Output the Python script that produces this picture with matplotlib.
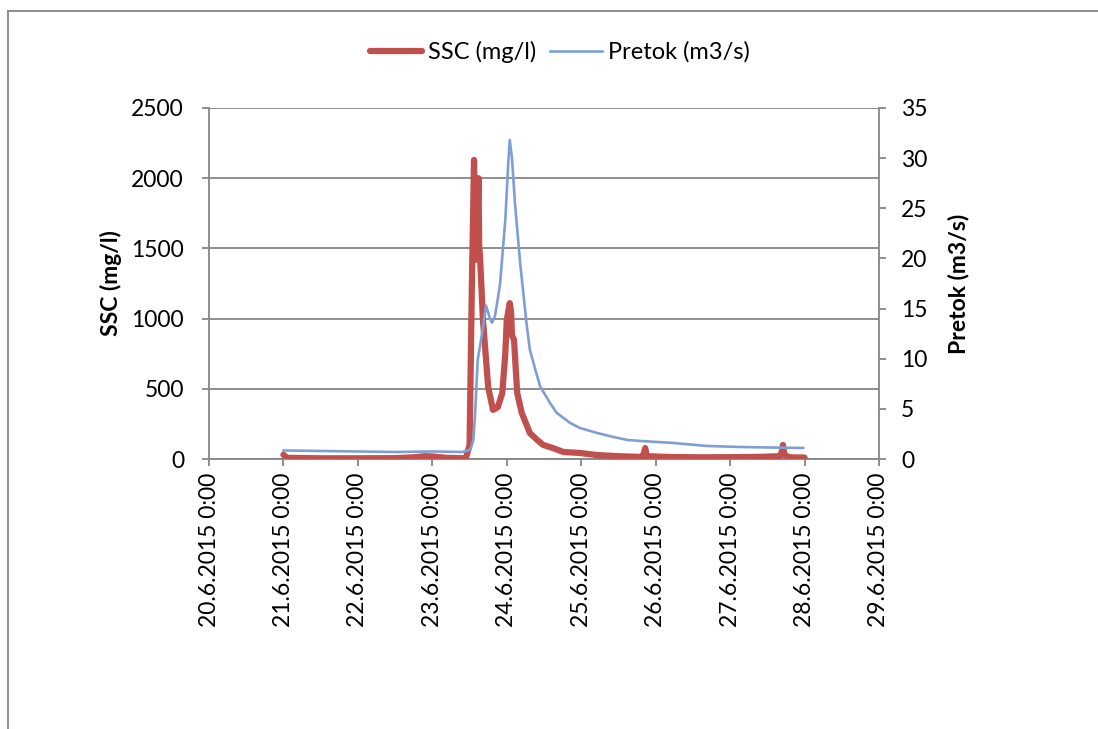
import matplotlib
matplotlib.use("Agg")
import matplotlib.pyplot as plt
from matplotlib.lines import Line2D

plt.rcParams['font.family'] = ['Lato', 'DejaVu Sans']

# time in days of June 2015
ssc_t = [21.00, 21.05, 21.5, 22.0, 22.5, 22.75, 22.9, 23.0, 23.2, 23.45, 23.5,
         23.53, 23.56, 23.575, 23.59, 23.61, 23.62, 23.63, 23.64, 23.68, 23.75,
         23.815, 23.855, 23.88, 23.94, 23.98, 24.00, 24.04, 24.057, 24.07, 24.097,
         24.14, 24.2, 24.31, 24.41, 24.49, 24.62, 24.76, 24.98, 25.21, 25.5,
         25.79, 25.83, 25.86, 25.88, 26.2, 26.6, 27.0, 27.4, 27.67, 27.7, 27.71,
         27.73, 27.8, 28.0]
ssc = [30, 8, 5, 5, 6, 12, 20, 18, 8, 5, 100,
       1200, 2130, 1700, 1420, 1800, 2000, 1500, 1450, 990, 513,
       350, 360, 370, 470, 750, 990, 1110, 1050, 880, 850,
       470, 330, 185, 135, 100, 78, 50, 43, 28, 20,
       15, 20, 78, 20, 14, 12, 13, 15, 20, 60, 100,
       30, 12, 10]

q_t = [21.0, 21.5, 22.0, 22.5, 23.0, 23.4, 23.51, 23.55, 23.57, 23.61, 23.67,
       23.72, 23.775, 23.80, 23.84, 23.88, 23.91, 23.98, 24.02, 24.04, 24.07,
       24.11, 24.18, 24.27, 24.31, 24.41, 24.45, 24.54, 24.58, 24.67, 24.85,
       24.98, 25.21, 25.43, 25.62, 25.79, 26.23, 26.69, 27.13, 27.5, 27.98]
q = [0.85, 0.8, 0.75, 0.7, 0.75, 0.7, 0.9, 1.9, 3.9, 9.9, 12.6,
     15.3, 14.0, 13.6, 14.2, 16.0, 17.5, 23.8, 29.5, 31.8, 30.0,
     25.5, 19.5, 13.2, 10.9, 8.2, 7.2, 6.1, 5.6, 4.6, 3.6,
     3.1, 2.6, 2.2, 1.9, 1.8, 1.6, 1.3, 1.2, 1.15, 1.1]

days = list(range(20, 30))
day_labels = [f"{d}.6.2015 0:00" for d in days]
ssc_ticks = [0, 500, 1000, 1500, 2000, 2500]
q_ticks = [0, 5, 10, 15, 20, 25, 30, 35]

grey = '#868686'
fs = 16.5

fig = plt.figure(figsize=(10.98, 7.29), dpi=100)
ax = fig.add_axes([209 / 1098, 1 - 459 / 729, 670 / 1098, 351 / 729])
ax2 = ax.twinx()

l1, = ax.plot(ssc_t, ssc, color='#C0504D', lw=4.5, solid_capstyle='round',
              solid_joinstyle='round', label='SSC (mg/l)', zorder=3)
l2, = ax2.plot(q_t, q, color='#7F9FD4', lw=1.9, label='Pretok (m3/s)',
               solid_joinstyle='round')

ax.set_xlim(20, 29)
ax.set_ylim(0, 2500)
ax2.set_ylim(0, 35)
ax.set_xticks(days)
ax.set_xticklabels(day_labels, rotation=90, fontsize=fs)
ax.set_yticks(ssc_ticks)
ax.set_yticklabels([str(v) for v in ssc_ticks], fontsize=fs)
ax2.set_yticks(q_ticks)
ax2.set_yticklabels([str(v) for v in q_ticks], fontsize=fs)

ax.grid(axis='y', color=grey, lw=1.3)
ax.set_axisbelow(True)
for a in (ax, ax2):
    for s in a.spines.values():
        s.set_visible(False)
ax.spines['left'].set_visible(True)
ax.spines['bottom'].set_visible(True)
ax2.spines['right'].set_visible(True)
for s in (ax.spines['left'], ax.spines['bottom'], ax2.spines['right']):
    s.set_color(grey)
    s.set_linewidth(1.3)

ax.tick_params(axis='y', length=5, width=1.3, color=grey, pad=13)
ax.tick_params(axis='x', length=5, width=1.3, color=grey, pad=5)
ax2.tick_params(axis='y', length=5, width=1.3, color=grey, pad=11)

ax.set_ylabel('SSC (mg/l)', fontsize=fs, fontweight='bold')
ax.yaxis.set_label_coords(-0.13, 0.5)
ax2.set_ylabel('Pretok (m3/s)', fontsize=fs, fontweight='bold')
ax2.yaxis.set_label_coords(1.103, 0.5)

fig.legend(handles=[l1, l2], loc='center', bbox_to_anchor=(560 / 1098, 1 - 52 / 729),
           ncol=2, frameon=False, fontsize=17, handlelength=2.2,
           handletextpad=0.25, columnspacing=0.6)

fig.add_artist(Line2D([8 / 1098, 8 / 1098], [0, 1 - 11 / 729],
                      transform=fig.transFigure, color=grey, lw=1.3))
fig.add_artist(Line2D([8 / 1098, 1], [1 - 11 / 729, 1 - 11 / 729],
                      transform=fig.transFigure, color=grey, lw=1.3))

fig.savefig('out.png', dpi=100)
